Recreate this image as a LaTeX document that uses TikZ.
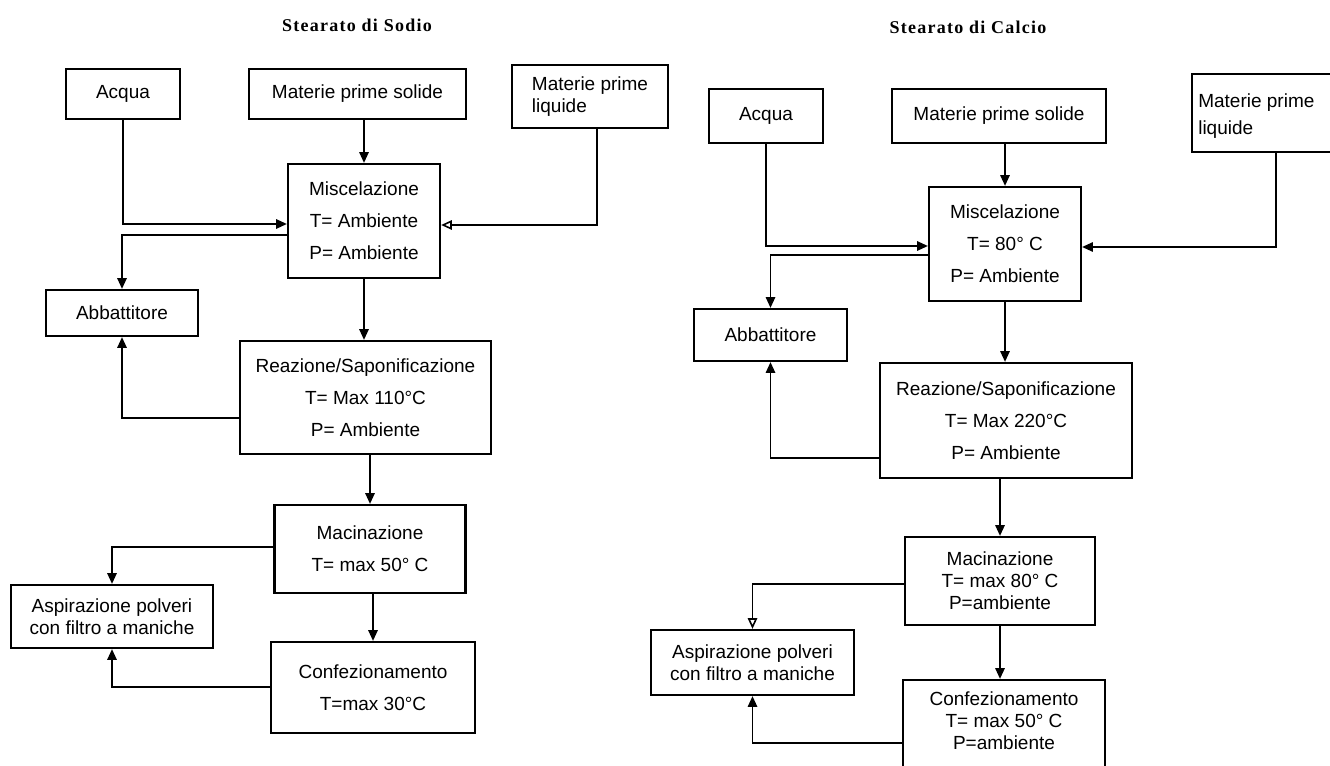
\documentclass[tikz,border=0pt]{standalone}
\usepackage{fontspec}
\setmainfont{Liberation Sans}
\newfontfamily\titlefont[LetterSpace=7]{Liberation Serif}
\usetikzlibrary{arrows.meta}

\begin{document}
\begin{tikzpicture}[x=0.75pt,y=-0.75pt,
  box/.style 2 args={draw, line width=1.7pt, inner sep=0pt,
    minimum width=#1*0.75pt, minimum height=#2*0.75pt,
    align=center, font=\fontsize{14.25}{24}\selectfont},
  tight/.style={font=\fontsize{14.25}{16.5}\selectfont},
  heading/.style={font=\titlefont\bfseries\fontsize{13.5}{16}\selectfont},
  link/.style={line width=1.2pt},
  flow/.style={link, -{Triangle[width=7pt,length=8pt]}},
  flowo/.style={link, -{Triangle[open,width=7pt,length=8pt]}}]

\useasboundingbox (0,0) rectangle (1330,766);
\clip (0,0) rectangle (1330,766);
\fill[white] (0,0) rectangle (1330,766);

% ---------------- Stearato di Sodio ----------------
\node[heading] (tS) at (357,25) {Stearato di Sodio};

\node[box={114}{50}]  (acquaS) at (123,94)   {Acqua};
\node[box={217}{50}]  (solS)   at (357.5,94) {Materie prime solide};
\node[box={156}{63}, tight, align=left] (liqS) at (590,96.5) {Materie prime\\liquide};
\node[box={152}{114}] (miscS)  at (364,221)  {Miscelazione\\T= Ambiente\\P= Ambiente};
\node[box={152}{46}]  (abbS)   at (122,313)  {Abbattitore};
\node[box={251}{113}] (reazS)  at (365.5,397.5) {Reazione/Saponificazione\\T= Max 110°C\\P= Ambiente};
\node[box={191}{88}]  (macS)   at (370,549)  {Macinazione\\T= max 50° C};
\node[box={202}{63}, tight] (aspS) at (112,616.5) {Aspirazione polveri\\con filtro a maniche};
\node[box={204}{91}]  (confS)  at (373,687.5) {Confezionamento\\T=max 30°C};

\draw[flow]  (acquaS.south) |- (miscS.west |- 0,224);
\draw[flow]  (solS.south -| miscS.north) -- (miscS.north);
\draw[flowo] (liqS.south -| 597,0) |- (miscS.east |- 0,225);
\draw[flow]  (miscS.west |- 0,235) -| (abbS.north);
\draw[flow]  (miscS.south) -- (miscS.south |- reazS.north);
\draw[flow]  (reazS.west |- 0,418) -| (abbS.south);
\draw[flow]  (reazS.south -| macS.north) -- (macS.north);
\draw[flow]  (macS.west |- 0,547) -| (aspS.north);
\draw[flow]  (macS.south -| confS.north) -- (confS.north);
\draw[flow]  (confS.west |- 0,687) -| (aspS.south);

% ---------------- Stearato di Calcio ----------------
\node[heading] (tC) at (968,27) {Stearato di Calcio};

\node[box={114}{54}]  (acquaC) at (766,116)  {Acqua};
\node[box={214}{54}]  (solC)   at (999,116)  {Materie prime solide};
\node[box={168}{78}]  (liqC)   at (1276,113) {};
\node[align=left, inner sep=0pt, anchor=west, font=\fontsize{14.25}{20}\selectfont]
  (liqCtxt) at (1198,116) {Materie prime\\liquide};
\node[box={152}{114}] (miscC)  at (1005,244) {Miscelazione\\T= 80° C\\P= Ambiente};
\node[box={153}{52}]  (abbC)   at (770.5,335) {Abbattitore};
\node[box={252}{115}] (reazC)  at (1006,420.5) {Reazione/Saponificazione\\T= Max 220°C\\P= Ambiente};
\node[box={190}{88}, tight]  (macC) at (1000,581) {Macinazione\\T= max 80° C\\P=ambiente};
\node[box={203}{65}, tight]  (aspC) at (752.5,662.5) {Aspirazione polveri\\con filtro a maniche};
% the packing box runs on past the lower edge
\node[box={202}{100}] (confC) at (1004,730) {};
\node[align=center, inner sep=0pt, font=\fontsize{14.25}{16.5}\selectfont]
  (confCtxt) at (1004,721) {Confezionamento\\T= max 50° C\\P=ambiente};

\draw[flow]  (acquaC.south) |- (miscC.west |- 0,246);
\draw[flow]  (solC.south -| miscC.north) -- (miscC.north);
\draw[flow]  (liqC.south -| 1276,0) |- (miscC.east |- 0,247);
\draw[flow]  (miscC.west |- 0,255) -| (abbC.north);
\draw[flow]  (miscC.south) -- (miscC.south |- reazC.north);
\draw[flow]  (reazC.west |- 0,458) -| (abbC.south);
\draw[flow]  (reazC.south -| macC.north) -- (macC.north);
\draw[flowo] (macC.west |- 0,584) -| (aspC.north);
\draw[flow]  (macC.south) -- (macC.south |- confC.north);
\draw[flow]  (confC.west |- 0,743) -| (aspC.south);

\end{tikzpicture}
\end{document}
